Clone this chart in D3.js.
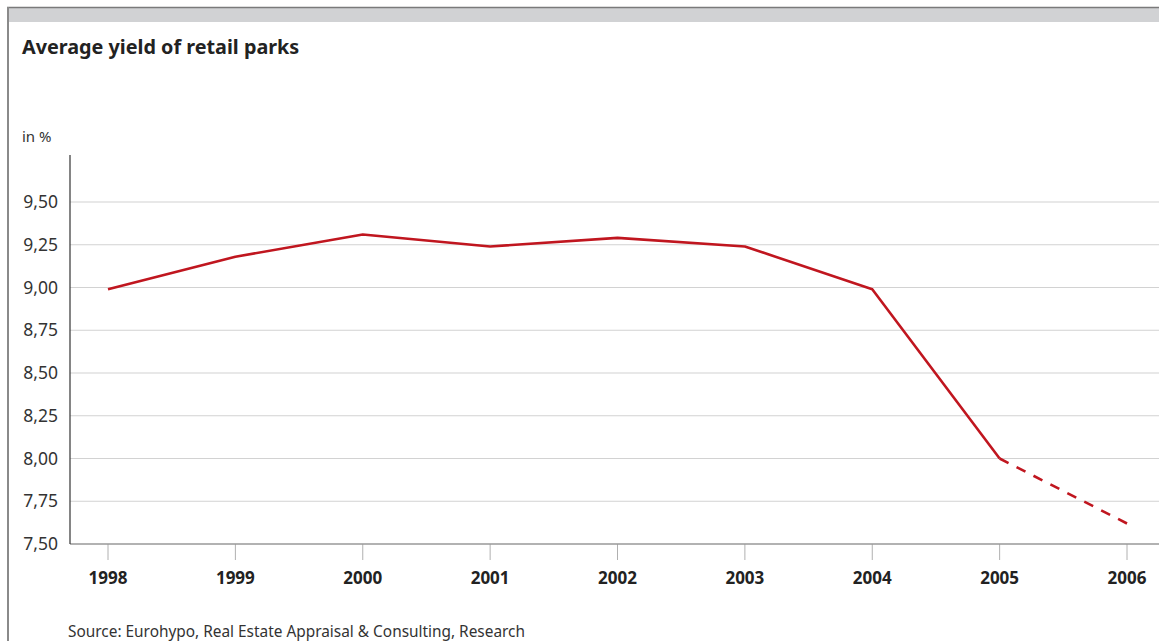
<!DOCTYPE html>
<html>
<head>
<meta charset="utf-8">
<script src="https://cdn.jsdelivr.net/npm/d3@7"></script>
<style>
  body { margin: 0; background: #fff; }
  svg { display: block; font-family: "Noto Sans", "Open Sans", sans-serif; }
</style>
</head>
<body>
<svg width="1159" height="641"></svg>
<script>
// chart data
const years = ["1998", "1999", "2000", "2001", "2002", "2003", "2004", "2005", "2006"];
const yields = [8.99, 9.18, 9.31, 9.24, 9.29, 9.24, 8.99, 8.00, 7.62];
const yTicks = [7.50, 7.75, 8.00, 8.25, 8.50, 8.75, 9.00, 9.25, 9.50];
const forecastFrom = "2005";

const margin = {top: 155, right: 0, bottom: 97, left: 70},
    width = 1159 - margin.left - margin.right,
    height = 641 - margin.top - margin.bottom;

const svg = d3.select("svg");

// frame: grey band on top, line on the left
svg.append("rect").attr("x", 7).attr("y", 7).attr("width", 1152).attr("height", 15).attr("fill", "#d1d2d4");
svg.append("line").attr("x1", 7).attr("x2", 1159).attr("y1", 7.5).attr("y2", 7.5).attr("stroke", "#7a7a7a").attr("stroke-width", 1.5);
svg.append("line").attr("x1", 8).attr("x2", 8).attr("y1", 7).attr("y2", 641).attr("stroke", "#8a8a8a").attr("stroke-width", 2);

svg.append("text").attr("x", 22).attr("y", 54)
    .attr("font-size", 19.8).attr("font-weight", "bold").attr("fill", "#222")
    .text("Average yield of retail parks");

svg.append("text").attr("x", 22).attr("y", 142)
    .attr("font-size", 15).attr("fill", "#333")
    .text("in %");

svg.append("text").attr("x", 68).attr("y", 637)
    .attr("font-size", 15.4).attr("fill", "#333")
    .text("Source: Eurohypo, Real Estate Appraisal & Consulting, Research");

const g = svg.append("g").attr("transform", `translate(${margin.left},${margin.top})`);

const x = d3.scalePoint().domain(years).range([38, 1057]);
const y = d3.scaleLinear().domain([7.5, 9.5]).range([389, 47]);

// horizontal gridlines
g.append("g")
    .selectAll("line")
    .data(yTicks.filter(d => d > 7.5))
    .join("line")
    .attr("x1", 0).attr("x2", width)
    .attr("y1", d => y(d)).attr("y2", d => y(d))
    .attr("stroke", "#d2d2d2").attr("stroke-width", 1.2);

// y axis labels
const fmt = d => d3.format(".2f")(d).replace(".", ",");
g.append("g")
    .selectAll("text")
    .data(yTicks)
    .join("text")
    .attr("x", -12).attr("y", d => y(d) + 6)
    .attr("text-anchor", "end")
    .attr("font-size", 17.5).attr("fill", "#333")
    .text(fmt);

// x axis ticks and labels
g.append("g")
    .selectAll("line")
    .data(years)
    .join("line")
    .attr("x1", d => x(d)).attr("x2", d => x(d))
    .attr("y1", height).attr("y2", height + 16)
    .attr("stroke", "#b0b0b0").attr("stroke-width", 1);

g.append("g")
    .selectAll("text")
    .data(years)
    .join("text")
    .attr("x", d => x(d)).attr("y", height + 40)
    .attr("text-anchor", "middle")
    .attr("font-size", 17).attr("font-weight", "bold").attr("fill", "#222")
    .text(d => d);

// axis lines
g.append("line").attr("x1", 0).attr("x2", width).attr("y1", height).attr("y2", height)
    .attr("stroke", "#999").attr("stroke-width", 1.5);
g.append("line").attr("x1", 0).attr("x2", 0).attr("y1", 0).attr("y2", height)
    .attr("stroke", "#333").attr("stroke-width", 1.2);

// series: solid up to forecast year, dashed after
const pts = years.map((d, i) => ({year: d, value: yields[i]}));
const cut = years.indexOf(forecastFrom);
const line = d3.line().x(d => x(d.year)).y(d => y(d.value));

g.append("path")
    .datum(pts.slice(0, cut + 1))
    .attr("d", line)
    .attr("fill", "none").attr("stroke", "#c0161f").attr("stroke-width", 2.6)
    .attr("stroke-linejoin", "round");

g.append("path")
    .datum(pts.slice(cut))
    .attr("d", line)
    .attr("fill", "none").attr("stroke", "#c0161f").attr("stroke-width", 2.6)
    .attr("stroke-dasharray", "10,9");
</script>
</body>
</html>
